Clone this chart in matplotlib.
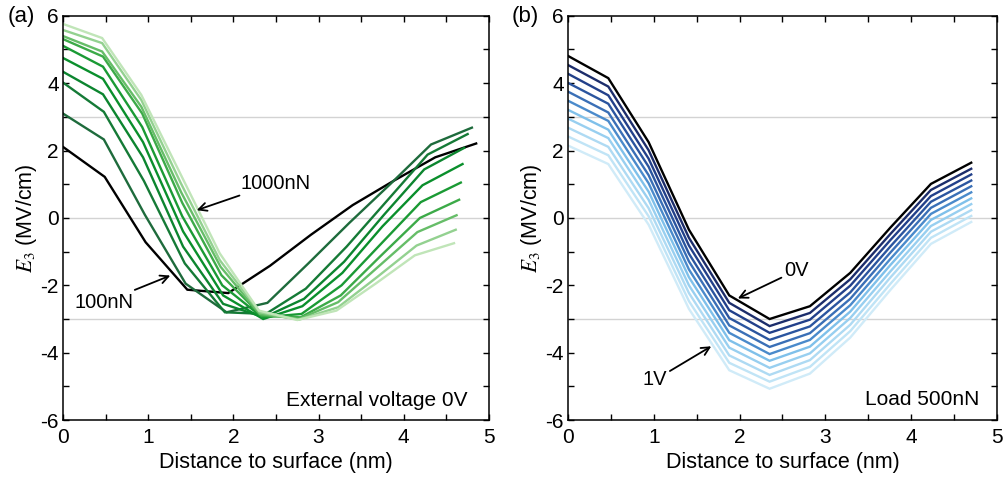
import numpy as np
import matplotlib
matplotlib.use('Agg')
import matplotlib.pyplot as plt
from matplotlib.ticker import MultipleLocator

plt.rcParams['font.family'] = ['Liberation Sans', 'DejaVu Sans']
plt.rcParams['mathtext.fontset'] = 'stix'
plt.rcParams['axes.unicode_minus'] = False

# panel (a): external voltage 0V, load 100..1000 nN
loads = [100, 200, 300, 400, 500, 600, 700, 800, 900, 1000]
load_x = [
    [0, 0.49, 0.97, 1.46, 1.94, 2.43, 2.91, 3.40, 3.88, 4.37, 4.85],
    [0, 0.48, 0.96, 1.44, 1.92, 2.40, 2.88, 3.36, 3.84, 4.32, 4.80],
    [0, 0.48, 0.95, 1.43, 1.90, 2.38, 2.85, 3.33, 3.80, 4.28, 4.75],
    [0, 0.47, 0.94, 1.41, 1.88, 2.36, 2.83, 3.30, 3.77, 4.24, 4.71],
    [0, 0.47, 0.94, 1.41, 1.88, 2.35, 2.81, 3.28, 3.75, 4.22, 4.69],
    [0, 0.47, 0.93, 1.40, 1.87, 2.34, 2.80, 3.27, 3.74, 4.20, 4.67],
    [0, 0.47, 0.93, 1.40, 1.86, 2.33, 2.79, 3.26, 3.72, 4.19, 4.65],
    [0, 0.46, 0.92, 1.39, 1.85, 2.31, 2.77, 3.23, 3.70, 4.16, 4.62],
    [0, 0.46, 0.92, 1.38, 1.84, 2.31, 2.77, 3.23, 3.69, 4.15, 4.61],
    [0, 0.46, 0.92, 1.38, 1.84, 2.30, 2.75, 3.21, 3.67, 4.13, 4.59],
]
load_y = [
    [2.11, 1.22, -0.72, -2.13, -2.23, -1.42, -0.50, 0.38, 1.10, 1.80, 2.21],
    [3.10, 2.33, 0.10, -1.95, -2.80, -2.52, -1.35, -0.15, 1.00, 2.18, 2.68],
    [4.02, 3.15, 1.10, -1.35, -2.80, -2.85, -2.10, -0.85, 0.50, 1.88, 2.49],
    [4.34, 3.67, 1.80, -0.85, -2.55, -2.95, -2.40, -1.30, 0.10, 1.44, 2.08],
    [4.75, 4.13, 2.25, -0.40, -2.30, -3.00, -2.62, -1.63, -0.25, 0.97, 1.60],
    [5.11, 4.49, 2.70, 0.05, -2.00, -2.95, -2.85, -2.00, -0.75, 0.47, 1.05],
    [5.31, 4.79, 3.10, 0.45, -1.70, -2.90, -2.95, -2.30, -1.15, 0.00, 0.54],
    [5.40, 4.94, 3.30, 0.75, -1.45, -2.85, -3.00, -2.50, -1.45, -0.42, 0.08],
    [5.58, 5.19, 3.50, 1.05, -1.25, -2.80, -3.02, -2.65, -1.75, -0.82, -0.35],
    [5.76, 5.34, 3.65, 1.30, -1.05, -2.75, -3.03, -2.75, -1.95, -1.11, -0.75],
]
green_colors = ['black', '#1e6b3c', '#157a36', '#0c852f', '#0a8f2c', '#1a9a34',
                '#3caa48', '#66bd68', '#93d190', '#c0e5b8']

# panel (b): load 500 nN, voltage 0..1 V
volt_x = [0, 0.47, 0.94, 1.41, 1.88, 2.35, 2.82, 3.29, 3.76, 4.23, 4.70]
volt_y = [
    [4.81, 4.15, 2.25, -0.35, -2.30, -3.00, -2.62, -1.63, -0.28, 1.01, 1.64],
    [4.54, 3.90, 2.01, -0.59, -2.52, -3.21, -2.82, -1.82, -0.47, 0.83, 1.46],
    [4.28, 3.64, 1.76, -0.82, -2.74, -3.41, -3.02, -2.01, -0.65, 0.65, 1.29],
    [4.01, 3.39, 1.52, -1.06, -2.97, -3.62, -3.22, -2.21, -0.84, 0.48, 1.11],
    [3.75, 3.13, 1.27, -1.29, -3.19, -3.83, -3.42, -2.40, -1.02, 0.30, 0.94],
    [3.48, 2.88, 1.03, -1.53, -3.41, -4.04, -3.62, -2.59, -1.21, 0.12, 0.76],
    [3.21, 2.62, 0.78, -1.76, -3.63, -4.24, -3.82, -2.78, -1.39, -0.06, 0.58],
    [2.95, 2.37, 0.54, -2.00, -3.85, -4.45, -4.02, -2.97, -1.58, -0.24, 0.41],
    [2.68, 2.11, 0.29, -2.23, -4.08, -4.66, -4.22, -3.17, -1.76, -0.41, 0.23],
    [2.42, 1.86, 0.05, -2.47, -4.30, -4.86, -4.42, -3.36, -1.95, -0.59, 0.06],
    [2.15, 1.60, -0.20, -2.70, -4.52, -5.07, -4.62, -3.55, -2.13, -0.77, -0.12],
]
blue_colors = ['black', '#1c2d6b', '#22408a', '#2b559f', '#3a6fb6', '#4a8acb',
               '#7fc0ea', '#98cff0', '#aedaf3', '#c0e4f6', '#d0ebf8']

grid_levels = [-3, 0, 3]

fig = plt.figure(figsize=(10.04, 4.79), dpi=100)
ax1 = fig.add_axes([0.0627, 0.123, 0.4243, 0.844])
ax2 = fig.add_axes([0.5657, 0.123, 0.4273, 0.844])


def style_axes(ax):
    ax.set_xlim(0, 5)
    ax.set_ylim(-6, 6)
    for g in grid_levels:
        ax.axhline(g, color='#d3d3d3', lw=1, zorder=0)
    ax.xaxis.set_major_locator(MultipleLocator(1))
    ax.xaxis.set_minor_locator(MultipleLocator(0.5))
    ax.yaxis.set_major_locator(MultipleLocator(2))
    ax.yaxis.set_minor_locator(MultipleLocator(1))
    ax.tick_params(which='both', direction='in', top=True, right=True,
                   length=4, width=1, labelsize=15, pad=3)
    ax.tick_params(axis='x', which='major', pad=6)
    for sp in ax.spines.values():
        sp.set_linewidth(1.1)
    ax.set_xlabel('Distance to surface (nm)', fontsize=15.5, labelpad=3)
    ax.set_ylabel(r'$E_3$ (MV/cm)', fontsize=15.5, labelpad=1)


style_axes(ax1)
for xs, ys, c in zip(load_x, load_y, green_colors):
    ax1.plot(xs, ys, color=c, lw=1.7, solid_joinstyle='miter')

arrow = dict(arrowstyle='->', color='black', lw=1.3, shrinkA=0, shrinkB=0)
ax1.annotate('1000nN', xy=(1.57, 0.23), xytext=(2.08, 1.03), fontsize=14.5,
             va='center', ha='left', arrowprops=arrow)
ax1.annotate('100nN', xy=(1.26, -1.71), xytext=(0.14, -2.5), fontsize=14.5,
             va='center', ha='left', arrowprops=arrow)
ax1.text(4.75, -5.43, 'External voltage 0V', fontsize=15, ha='right', va='center')

style_axes(ax2)
for ys, c in zip(volt_y[::-1], blue_colors[::-1]):
    ax2.plot(volt_x, ys, color=c, lw=1.7, solid_joinstyle='miter')

ax2.annotate('0V', xy=(1.98, -2.39), xytext=(2.52, -1.56), fontsize=14.5,
             va='center', ha='left', arrowprops=arrow)
ax2.annotate('1V', xy=(1.67, -3.81), xytext=(0.87, -4.81), fontsize=14.5,
             va='center', ha='left', arrowprops=arrow)
ax2.text(4.79, -5.4, 'Load 500nN', fontsize=15, ha='right', va='center')

fig.text(0.008, 0.965, '(a)', fontsize=16, va='center', ha='left')
fig.text(0.510, 0.965, '(b)', fontsize=16, va='center', ha='left')

fig.savefig('out.png', dpi=100)
